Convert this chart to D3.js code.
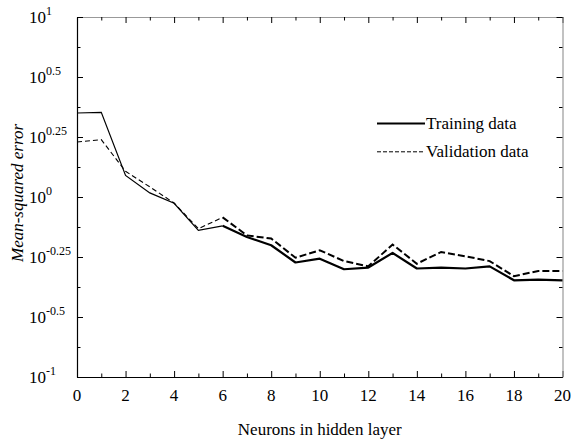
<!DOCTYPE html>
<html>
<head>
<meta charset="utf-8">
<script src="https://cdn.jsdelivr.net/npm/d3@7"></script>
<style>
  body { margin: 0; background: #fff; }
</style>
</head>
<body>
<svg id="chart" width="573" height="439"></svg>
<script>
var width = 573;
var height = 439;
var serif = "Liberation Serif";

// neurons in hidden layer
var neurons = [0,1,2,3,4,5,6,7,8,9,10,11,12,13,14,15,16,17,18,19,20];
// exponent of 10 (mean-squared error)
var training = [0.350,0.353,0.090,0.017,-0.026,-0.139,-0.120,-0.167,-0.201,-0.273,-0.257,
                -0.301,-0.294,-0.233,-0.298,-0.294,-0.298,-0.289,-0.347,-0.344,-0.347];
var validation = [0.229,0.239,0.107,0.042,-0.025,-0.132,-0.085,-0.160,-0.173,-0.253,-0.222,
                  -0.267,-0.289,-0.198,-0.278,-0.229,-0.247,-0.267,-0.330,-0.308,-0.308];

var xTicks = [0,2,4,6,8,10,12,14,16,18,20];
var yTickPos = [-0.75,-0.5,-0.25,0,0.25,0.5,0.75];
var yTickExp = ["-1","-0.5","-0.25","0","0.25","0.5","1"];
var seriesNames = ["Training data","Validation data"];

var margin = {left: 77, top: 17, right: 10.5, bottom: 62};
var w = width - margin.left - margin.right;
var h = height - margin.top - margin.bottom;

var svg = d3.select("#chart");
var g = svg.append("g").attr("transform","translate("+margin.left+","+margin.top+")");

var x = d3.scaleLinear().domain([0,20]).range([0,w]);
var y = d3.scaleLinear().domain([-0.75,0.75]).range([h,0]);

var minorX = d3.range(1,20,2);
var minorY = d3.range(-0.625,0.75,0.25);

function styleAxis(sel, color){
  sel.select(".domain").attr("stroke",color);
  sel.selectAll(".tick line").attr("stroke","#000");
  sel.selectAll(".tick text").remove();
}
function minorStyle(sel){
  sel.select(".domain").remove();
  sel.selectAll(".tick line").attr("stroke","#000");
  sel.selectAll(".tick text").remove();
}

// bottom / top
g.append("g").attr("transform","translate(0,"+h+")")
  .call(d3.axisBottom(x).tickValues(xTicks).tickSizeInner(-6).tickSizeOuter(0))
  .call(styleAxis,"#000");
g.append("g").attr("transform","translate(0,"+h+")")
  .call(d3.axisBottom(x).tickValues(minorX).tickSizeInner(-3.5).tickSizeOuter(0))
  .call(minorStyle);
g.append("g")
  .call(d3.axisTop(x).tickValues(xTicks).tickSizeInner(-6).tickSizeOuter(0))
  .call(styleAxis,"#999");
g.append("g")
  .call(d3.axisTop(x).tickValues(minorX).tickSizeInner(-3.5).tickSizeOuter(0))
  .call(minorStyle);

// left / right
g.append("g")
  .call(d3.axisLeft(y).tickValues(yTickPos).tickSizeInner(-6).tickSizeOuter(0))
  .call(styleAxis,"#000");
g.append("g")
  .call(d3.axisLeft(y).tickValues(minorY).tickSizeInner(-3.5).tickSizeOuter(0))
  .call(minorStyle);
g.append("g").attr("transform","translate("+w+",0)")
  .call(d3.axisRight(y).tickValues(yTickPos).tickSizeInner(-6).tickSizeOuter(0))
  .call(styleAxis,"#999");
g.append("g").attr("transform","translate("+w+",0)")
  .call(d3.axisRight(y).tickValues(minorY).tickSizeInner(-3.5).tickSizeOuter(0))
  .call(minorStyle);

g.selectAll(".domain").attr("stroke-width",1.2);

// x tick labels
g.selectAll(".xlab").data(xTicks).enter().append("text")
  .style("font-family",serif)
  .attr("x",function(d){return x(d);})
  .attr("y",h+24)
  .attr("text-anchor","middle")
  .style("font-size","17px")
  .text(function(d){return d;});

// y tick labels: 10^exp
var ylab = svg.selectAll(".ylab").data(yTickPos).enter().append("text")
  .style("font-family",serif)
  .attr("x",29)
  .attr("y",function(d){return margin.top + y(d) + 6;})
  .style("font-size","17px");
ylab.append("tspan").text("10");
ylab.append("tspan").attr("dy",-8).style("font-size","12px")
  .text(function(d,i){return yTickExp[i];});

// axis titles
svg.append("text")
  .style("font-family",serif)
  .attr("x",margin.left + w/2)
  .attr("y",435)
  .attr("text-anchor","middle")
  .style("font-size","17px")
  .text("Neurons in hidden layer");
svg.append("text")
  .style("font-family",serif)
  .attr("transform","translate(23,"+(margin.top + h/2 - 4)+") rotate(-90)")
  .attr("text-anchor","middle")
  .style("font-size","17px")
  .style("font-style","italic")
  .text("Mean-squared error");

// lines: the first few segments are drawn thinner in the original
var line = d3.line()
  .x(function(d){return x(d[0]);})
  .y(function(d){return y(d[1]);});
var split = 6;
var valPts = d3.zip(neurons,validation);
var trPts = d3.zip(neurons,training);

g.append("path").datum(valPts.slice(0,split+1))
  .attr("fill","none").attr("stroke","#000").attr("stroke-width",1.1)
  .attr("stroke-dasharray","5,3").attr("d",line);
g.append("path").datum(valPts.slice(split))
  .attr("fill","none").attr("stroke","#000").attr("stroke-width",2)
  .attr("stroke-dasharray","7,3").attr("d",line);
g.append("path").datum(trPts.slice(0,split+1))
  .attr("fill","none").attr("stroke","#000").attr("stroke-width",1.2)
  .attr("d",line);
g.append("path").datum(trPts.slice(split))
  .attr("fill","none").attr("stroke","#000").attr("stroke-width",2.2)
  .attr("stroke-linejoin","round").attr("d",line);

// legend
var legend = svg.append("g").attr("transform","translate(377,123.5)");
var legItems = legend.selectAll("g").data(seriesNames).enter().append("g")
  .attr("transform",function(d,i){return "translate(0,"+(i*28.3)+")";});
legItems.append("line")
  .attr("x1",0).attr("x2",48).attr("y1",0).attr("y2",0)
  .attr("stroke","#000")
  .attr("stroke-width",function(d,i){return i==0 ? 2 : 1;})
  .attr("stroke-dasharray",function(d,i){return i==0 ? null : "4,2";});
legItems.append("text")
  .style("font-family",serif)
  .attr("x",49).attr("y",5)
  .style("font-size","17px")
  .text(function(d){return d;});
</script>
</body>
</html>
